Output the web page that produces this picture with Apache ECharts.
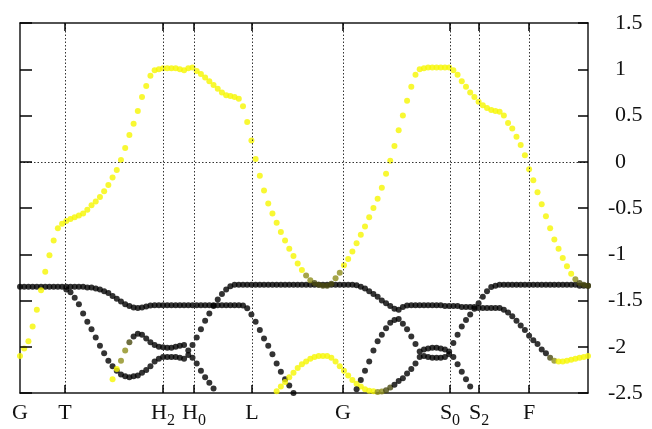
<!DOCTYPE html>
<html>
<head>
<meta charset="utf-8">
<script src="https://cdn.jsdelivr.net/npm/echarts@6.0.0/dist/echarts.min.js"></script>
<style>
html,body{margin:0;padding:0;background:#fff;}
#chart{width:652px;height:429px;}
</style>
</head>
<body>
<div id="chart"></div>
<script>
// k-path: point index 0..135; high-symmetry points (in index units) and their names
const tickPos = [0, 10.70, 33.99, 41.36, 55.15, 76.78, 102.2, 109.1, 121.0];
const tickNames = ['G', 'T', 'H_2', 'H_0', 'L', 'G', 'S_0', 'S_2', 'F'];
const yTicks = [-2.5, -2, -1.5, -1, -0.5, 0, 0.5, 1, 1.5];

// Band A (upper, yellow), starts at k index 0
const bandAStart = 0;
const bandA = [
 -2.10,-2.02,-1.94,-1.78,-1.60,-1.39,-1.19,-1.01,-0.85,-0.72,
 -0.67,-0.64,-0.62,-0.60,-0.58,-0.56,-0.52,-0.47,-0.43,-0.38,
 -0.32,-0.25,-0.17,-0.09,0.02,0.15,0.29,0.41,0.55,0.70,
 0.82,0.93,0.99,1.00,1.01,1.01,1.01,1.01,1.00,0.99,
 1.01,1.02,0.98,0.95,0.91,0.87,0.83,0.79,0.75,0.72,
 0.71,0.70,0.68,0.60,0.43,0.23,0.03,-0.15,-0.31,-0.45,
 -0.56,-0.66,-0.76,-0.85,-0.94,-1.02,-1.10,-1.17,-1.23,-1.28,
 -1.31,-1.33,-1.34,-1.34,-1.32,-1.26,-1.20,-1.12,-1.05,-0.97,
 -0.88,-0.79,-0.70,-0.60,-0.50,-0.40,-0.28,-0.13,0.01,0.17,
 0.34,0.50,0.66,0.81,0.94,1.00,1.01,1.02,1.02,1.02,
 1.02,1.02,1.02,0.99,0.94,0.87,0.81,0.75,0.70,0.65,
 0.61,0.58,0.56,0.55,0.54,0.50,0.42,0.36,0.27,0.18,
 0.07,-0.08,-0.20,-0.33,-0.46,-0.59,-0.72,-0.84,-0.94,-1.04,
 -1.13,-1.21,-1.27,-1.31,-1.33,-1.34
];
const bandAShade = [['y',68],['o',2],['d',5],['o',2],['y',55],['o',1],['d',3]];

const bandB1Start = 0;
const bandB1 = [
 -1.35,-1.35,-1.35,-1.35,-1.35,-1.35,-1.35,-1.35,-1.35,-1.35,-1.35,-1.35,-1.35,-1.35,-1.35,-1.35,
 -1.36,-1.36,-1.37,-1.38,-1.40,-1.42,-1.45,-1.48,-1.51,-1.54,-1.56,-1.575,-1.58,-1.575,-1.565,-1.555,
 -1.55,-1.55,-1.55,-1.55,-1.55,-1.55,-1.55,-1.55,-1.55,-1.55,-1.55,-1.55,-1.55,-1.55,-1.55,-1.55,-1.55,-1.55,-1.55,-1.55,-1.55,
 -1.555,-1.585,-1.65,-1.73,-1.82,-1.91,-1.99,-2.08,-2.18,-2.27,-2.35,-2.42,-2.50,-2.58
];
const bandB1Shade = [['k',67]];

const bandB2Start = 11;
const bandB2 = [
 -1.38,-1.41,-1.47,-1.54,-1.64,-1.73,-1.81,-1.90,-1.99,-2.07,
 -2.15,-2.21,-2.26,-2.30,-2.32,-2.33,-2.32,-2.31,-2.28,-2.25,
 -2.21,-2.16,-2.13,-2.11,-2.11,-2.11,-2.11,-2.12,-2.13,-2.09,
 -2.12,-2.18,-2.26,-2.33,-2.39,-2.45,-2.51
];
const bandB2Shade = [['k',37]];

const bandB3Start = 22;
const bandB3 = [
 -2.35,-2.24,-2.15,-2.04,-1.95,-1.89,-1.86,-1.87,-1.91,-1.95,
 -1.98,-2.00,-2.005,-2.01,-2.01,-2.00,-1.99,-1.98,-2.04,-1.98,
 -1.90,-1.81,-1.72,-1.64,-1.56,-1.49,-1.43,-1.38,-1.345,-1.33,
 -1.33,-1.33,-1.33,-1.33,-1.33,-1.33,-1.33,-1.33,-1.33,-1.33,
 -1.33,-1.33,-1.33,-1.33,-1.33,-1.33,-1.33,-1.33,-1.33,-1.33,
 -1.33,-1.33,-1.33,-1.33,-1.33,-1.33,-1.33,-1.33,-1.335,
 -1.35,-1.37,-1.40,-1.43,-1.46,-1.50,-1.53,-1.56,-1.59,-1.60,
 -1.57,-1.555,-1.55,-1.55,-1.55,-1.55,-1.55,-1.55,-1.55,-1.55,
 -1.56,-1.56,-1.56,-1.56,-1.57,-1.57,-1.57,-1.57,-1.58,-1.58,
 -1.58,-1.58,-1.58,-1.58,-1.60,-1.63,-1.67,-1.72,-1.77,-1.82,
 -1.88,-1.93,-1.97,-2.03,-2.07,-2.12,-2.15,-2.16,-2.16,-2.15,
 -2.14,-2.13,-2.12,-2.11,-2.10
];
const bandB3Shade = [['y',2],['o',2],['d',1],['k',99],['d',1],['o',1],['y',8]];

const bandB4Start = 61;
const bandB4 = [
 -2.48,-2.43,-2.38,-2.33,-2.28,-2.23,-2.19,-2.16,-2.13,-2.11,
 -2.10,-2.10,-2.10,-2.12,-2.16,-2.21,-2.26,-2.31,-2.36,-2.40,
 -2.43,-2.46,-2.475,-2.48,-2.49,-2.485,-2.47,-2.44,-2.41,-2.37,
 -2.34,-2.29,-2.24,-2.18,-2.11,-2.10,-2.11,-2.12,-2.12,-2.12,
 -2.11,-2.08,-1.96,-1.87,-1.78,-1.71,-1.65,-1.59,-1.53,-1.46,
 -1.40,-1.355,-1.34,-1.33,-1.33,-1.33,-1.33,-1.33,-1.33,-1.33,
 -1.33,-1.33,-1.33,-1.33,-1.33,-1.33,-1.33,-1.33,-1.33,-1.33,
 -1.33,-1.33,-1.34,-1.34,-1.34
];
const bandB4Shade = [['y',24],['o',2],['d',2],['k',47]];

const bandB5Start = 80;
const bandB5 = [
 -2.46,-2.36,-2.26,-2.16,-2.04,-1.94,-1.87,-1.80,-1.74,-1.71,
 -1.70,-1.75,-1.81,-1.89,-1.97,-2.05,-2.03,-2.02,-2.01,-2.01,
 -2.02,-2.03,-2.05,-2.11,-2.19,-2.27,-2.35,-2.43,-2.51
];
const bandB5Shade = [['k',29]];

const shadeColor = { y: '#f6f600', o: '#8e8e1c', d: '#4a4a10', k: '#000000' };

function expandShade(runs) {
  const out = [];
  runs.forEach(([c, n]) => { for (let j = 0; j < n; j++) out.push(c); });
  return out;
}
function bandData(start, values, runs) {
  const sh = expandShade(runs);
  return values.map((v, j) => ({ value: [start + j, v], itemStyle: { color: shadeColor[sh[j]] || '#000' } }));
}

const FONT = 'Liberation Serif';
const rich = {
  m: { fontFamily: FONT, fontSize: 22, lineHeight: 22, color: '#111', verticalAlign: 'top' },
  s: { fontFamily: FONT, fontSize: 16, lineHeight: 16, color: '#111', verticalAlign: 'top', padding: [11, 0, 0, 0] }
};
function xLabel(v) {
  let best = 0;
  tickPos.forEach((p, k) => { if (Math.abs(p - v) < Math.abs(tickPos[best] - v)) best = k; });
  const parts = tickNames[best].split('_');
  return parts.length > 1 ? '{m|' + parts[0] + '}{s|' + parts[1] + '}' : '{m|' + parts[0] + '}';
}
function yLabel(v) {
  const t = String(v);
  return v < 0 ? '{n|' + t + '}' : '{sp| }{n|' + t + '}';
}

// layout (pixels) and the axis ranges
const GRID = { left: 20, right: 64, top: 23, bottom: 34 };
const X_MIN = 0, X_MAX = 135, Y_MIN = -2.5, Y_MAX = 1.5;
const plotW = 652 - GRID.left - GRID.right, plotH = 429 - GRID.top - GRID.bottom;
const kPerPx = (X_MAX - X_MIN) / plotW, ePerPx = (Y_MAX - Y_MIN) / plotH;

// inward tick marks drawn as short segments in axis coordinates
const tickSegs = [];
yTicks.forEach(v => {
  tickSegs.push([{ coord: [X_MAX - 10 * kPerPx, v] }, { coord: [X_MAX, v] }]);
  tickSegs.push([{ coord: [X_MIN, v] }, { coord: [X_MIN + 12 * kPerPx, v] }]);
});
tickPos.slice(1).forEach(p => {
  tickSegs.push([{ coord: [p, Y_MIN] }, { coord: [p, Y_MIN + 8 * ePerPx] }]);
  tickSegs.push([{ coord: [p, Y_MAX - 8 * ePerPx] }, { coord: [p, Y_MAX] }]);
});

const lineStyle = { color: '#1a1a1a', width: 1.5 };
const bands = [
  [bandB1Start, bandB1, bandB1Shade],
  [bandB2Start, bandB2, bandB2Shade],
  [bandB3Start, bandB3, bandB3Shade],
  [bandB4Start, bandB4, bandB4Shade],
  [bandB5Start, bandB5, bandB5Shade],
  [bandAStart, bandA, bandAShade]
];

const series = [{
  type: 'scatter', data: [], z: 1, silent: true,
  markLine: {
    silent: true, symbol: ['none', 'none'], label: { show: false }, animation: false,
    lineStyle: { color: '#333', type: [1.5, 2], width: 1 },
    data: tickPos.slice(1).map(v => ({ xAxis: v })).concat([{ yAxis: 0 }])
  }
}].concat(bands.map(([s, vals, sh]) => ({
  type: 'scatter', symbol: 'circle', symbolSize: 6, clip: true, silent: true, z: 3,
  data: bandData(s, vals, sh)
}))).concat([{
  type: 'scatter', data: [], z: 5, silent: true,
  markLine: {
    silent: true, symbol: ['none', 'none'], label: { show: false }, animation: false,
    lineStyle: { color: '#000', type: 'solid', width: 1.5 },
    data: tickSegs
  }
}]);

const chart = echarts.init(document.getElementById('chart'), null, { renderer: 'canvas' });
chart.setOption({
  animation: false,
  backgroundColor: '#fff',
  grid: Object.assign({ show: false }, GRID),
  xAxis: [{
    type: 'value', min: X_MIN, max: X_MAX, position: 'bottom',
    axisLine: { show: true, onZero: false, lineStyle: lineStyle }, splitLine: { show: false },
    axisTick: { show: false },
    axisLabel: { show: true, customValues: tickPos, formatter: xLabel, margin: 9, rich: rich }
  }, {
    type: 'value', min: X_MIN, max: X_MAX, position: 'top',
    axisLine: { show: true, onZero: false, lineStyle: lineStyle }, splitLine: { show: false },
    axisTick: { show: false }, axisLabel: { show: false }
  }],
  yAxis: [{
    type: 'value', min: Y_MIN, max: Y_MAX, interval: 0.5, position: 'right',
    axisLine: { show: true, onZero: false, lineStyle: lineStyle }, splitLine: { show: false },
    axisTick: { show: false },
    axisLabel: {
      show: true, margin: 20, align: 'left', formatter: yLabel,
      rich: { n: { fontFamily: FONT, fontSize: 22, color: '#111' }, sp: { fontFamily: FONT, fontSize: 22, width: 7 } }
    }
  }, {
    type: 'value', min: Y_MIN, max: Y_MAX, interval: 0.5, position: 'left',
    axisLine: { show: true, onZero: false, lineStyle: lineStyle }, splitLine: { show: false },
    axisTick: { show: false }, axisLabel: { show: false }
  }],
  series: series
});
</script>
</body>
</html>
